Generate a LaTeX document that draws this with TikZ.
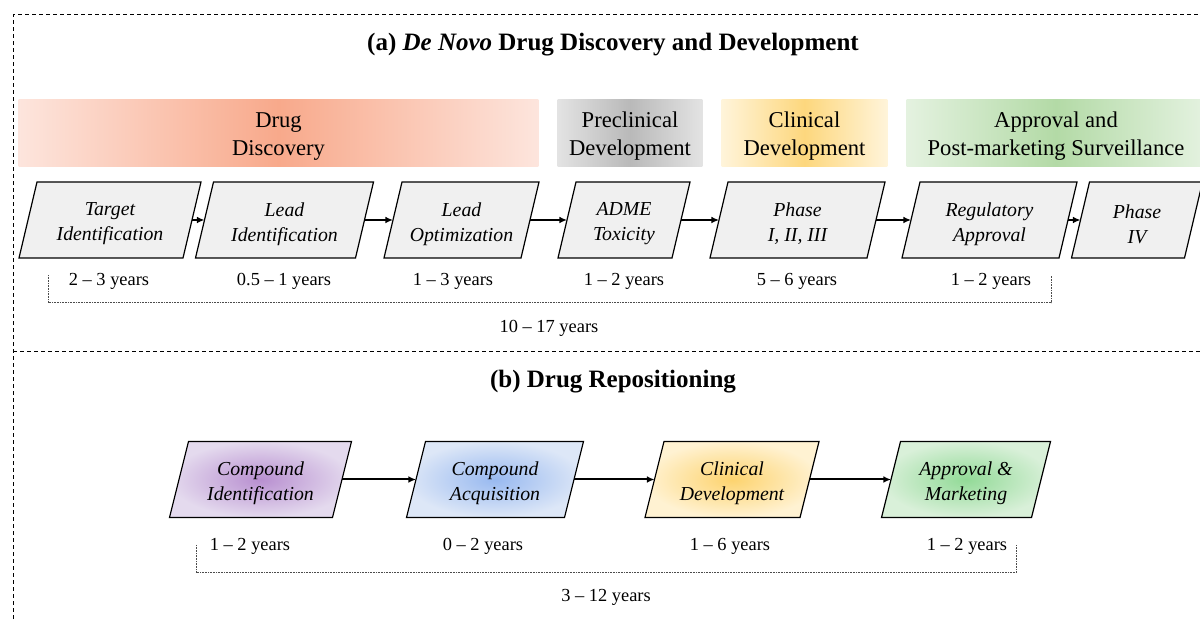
\documentclass[tikz,border=0pt]{standalone}
\usepackage{fontspec}
\setmainfont{Liberation Serif}
\usetikzlibrary{arrows.meta,backgrounds}

% band gradients
\definecolor{drugM}{HTML}{F8A98B}
\definecolor{drugL}{HTML}{FDE5DD}
\definecolor{preM}{HTML}{B9B9B9}
\definecolor{preL}{HTML}{E3E3E3}
\definecolor{cliM}{HTML}{FDD77D}
\definecolor{cliL}{HTML}{FFF4DA}
\definecolor{appM}{HTML}{B3DAA6}
\definecolor{appL}{HTML}{E4F2E0}
\definecolor{boxgray}{HTML}{F0F0F0}
% repositioning stage shadings
\definecolor{cpdIn}{HTML}{B88FD0}
\definecolor{cpdOut}{HTML}{E4DAEE}
\definecolor{acqIn}{HTML}{98B9F0}
\definecolor{acqOut}{HTML}{DDE7F7}
\definecolor{clinIn}{HTML}{FDD36E}
\definecolor{clinOut}{HTML}{FFF2D2}
\definecolor{mktIn}{HTML}{92DA97}
\definecolor{mktOut}{HTML}{D9F0D9}

\begin{document}
\begin{tikzpicture}[x=0.5pt,y=-0.5pt,
  frame/.style={line width=0.5pt, dash pattern=on 2pt off 1.5pt},
  band/.style={minimum height=33pt, inner sep=0pt,
    font=\fontsize{11.3pt}{14pt}\selectfont, align=center},
  stage/.style={minimum height=38pt, inner sep=0pt, outer sep=0pt,
    font=\fontsize{9.9pt}{12.5pt}\selectfont\itshape, align=center},
  yrs/.style={font=\fontsize{9.2pt}{11pt}\selectfont, inner sep=0pt},
  flow/.style={line width=1pt, -{Latex[length=3.8pt,width=3.4pt]}},
  span/.style={line width=0.5pt, black!70, dash pattern=on 0.4pt off 0.4pt},
  heading/.style={font=\fontsize{12.5pt}{15pt}\selectfont\bfseries},
  outline/.style={line width=0.6pt, draw=black},
]
\useasboundingbox (0,0) rectangle (1200,619);

% dashed panel frame
\begin{scope}
  \clip (0,0) rectangle (1200,619);
  \draw[frame] (13,640) -- (13,15) -- (1220,15);
  \draw[frame] (13,352) -- (1220,352);
\end{scope}

% ---------- (a) de novo pipeline ----------
\node[heading] (titleA) at (613,45) {(a) \textit{De Novo} Drug Discovery and Development};

% phase bands: text nodes sit 3.5px low, the shaded band is drawn 3.5px higher
\node[band, minimum width=259.5pt] (bandDrug) at (278.5,136.5) {Drug\\Discovery};
\node[band, minimum width=72pt]    (bandPre)  at (630,136.5)   {Preclinical\\Development};
\node[band, minimum width=82.5pt]  (bandCli)  at (804.5,136.5) {Clinical\\Development};
\node[band, minimum width=149pt]   (bandApp)  at (1056,136.5)  {Approval and\\Post-marketing Surveillance};

\begin{scope}[on background layer]
  \foreach \n/\cl/\cm in {bandDrug/drugL/drugM, bandPre/preL/preM, bandCli/cliL/cliM, bandApp/appL/appM}
    \shade[left color=\cl, right color=\cl, middle color=\cm]
      ([yshift=1.75pt]\n.south west) rectangle ([yshift=1.75pt]\n.north east);
\end{scope}

% stage boxes: text nodes sit 4px low, outlines and arrows are raised 2pt
\node[stage, minimum width=82pt]   (s1) at (110,224)   {Target\\Identification};
\node[stage, minimum width=80pt]   (s2) at (284.5,224) {Lead\\Identification};
\node[stage, minimum width=68.5pt] (s3) at (461.5,224) {Lead\\Optimization};
\node[stage, minimum width=57pt]   (s4) at (624,224)   {ADME\\Toxicity};
\node[stage, minimum width=78.5pt] (s5) at (797.5,224) {Phase\\I, II, III};
\node[stage, minimum width=78.5pt] (s6) at (989.5,224) {Regulatory\\Approval};
\node[stage, minimum width=56.5pt] (s7) at (1137,224)  {Phase\\IV};

\begin{scope}[on background layer]
  \foreach \n in {s1,s2,s3,s4,s5,s6,s7}
    \draw[outline, fill=boxgray]
      ([shift={(-4.5pt,2pt)}]\n.south west) -- ([shift={(-4.5pt,2pt)}]\n.south east) --
      ([shift={(4.5pt,2pt)}]\n.north east) -- ([shift={(4.5pt,2pt)}]\n.north west) -- cycle;
\end{scope}

\foreach \a/\b in {s1/s2, s2/s3, s3/s4, s4/s5, s5/s6, s6/s7}
  \draw[flow] ([yshift=2pt]\a.east) -- ([yshift=2pt]\b.west);

\node[yrs] (y1) at (109,281) {2 – 3 years};
\node[yrs] (y2) at (284,281) {0.5 – 1 years};
\node[yrs] (y3) at (453,281) {1 – 3 years};
\node[yrs] (y4) at (624,281) {1 – 2 years};
\node[yrs] (y5) at (797,281) {5 – 6 years};
\node[yrs] (y6) at (991,281) {1 – 2 years};

\coordinate (bA1) at (48,275);
\coordinate (bA2) at (48,303);
\coordinate (bA3) at (1051,303);
\coordinate (bA4) at (1051,275);
\draw[span] (bA1) -- (bA2) -- (bA3) -- (bA4);
\node[yrs] (totalA) at (549,328) {10 – 17 years};

% ---------- (b) repositioning pipeline ----------
\node[heading] (titleB) at (613,382) {(b) Drug Repositioning};

\node[stage, minimum width=81.5pt] (r1) at (260.5,483.5) {Compound\\Identification};
\node[stage, minimum width=79pt]   (r2) at (495,483.5)   {Compound\\Acquisition};
\node[stage, minimum width=77.5pt] (r3) at (732,483.5)   {Clinical\\Development};
\node[stage, minimum width=75pt]   (r4) at (966,483.5)   {Approval \&\\Marketing};

\begin{scope}[on background layer]
  \foreach \n/\ci/\co in {r1/cpdIn/cpdOut, r2/acqIn/acqOut, r3/clinIn/clinOut, r4/mktIn/mktOut}
    \path[outline, inner color=\ci, outer color=\co]
      ([shift={(-4.75pt,2pt)}]\n.south west) -- ([shift={(-4.75pt,2pt)}]\n.south east) --
      ([shift={(4.75pt,2pt)}]\n.north east) -- ([shift={(4.75pt,2pt)}]\n.north west) -- cycle;
\end{scope}

\foreach \a/\b in {r1/r2, r2/r3, r3/r4}
  \draw[flow] ([yshift=2pt]\a.east) -- ([yshift=2pt]\b.west);

\node[yrs] (z1) at (250,546) {1 – 2 years};
\node[yrs] (z2) at (483,546) {0 – 2 years};
\node[yrs] (z3) at (730,546) {1 – 6 years};
\node[yrs] (z4) at (967,546) {1 – 2 years};

\coordinate (bB1) at (196,545);
\coordinate (bB2) at (196,573);
\coordinate (bB3) at (1016,573);
\coordinate (bB4) at (1016,545);
\draw[span] (bB1) -- (bB2) -- (bB3) -- (bB4);
\node[yrs] (totalB) at (606,597) {3 – 12 years};
\end{tikzpicture}
\end{document}
